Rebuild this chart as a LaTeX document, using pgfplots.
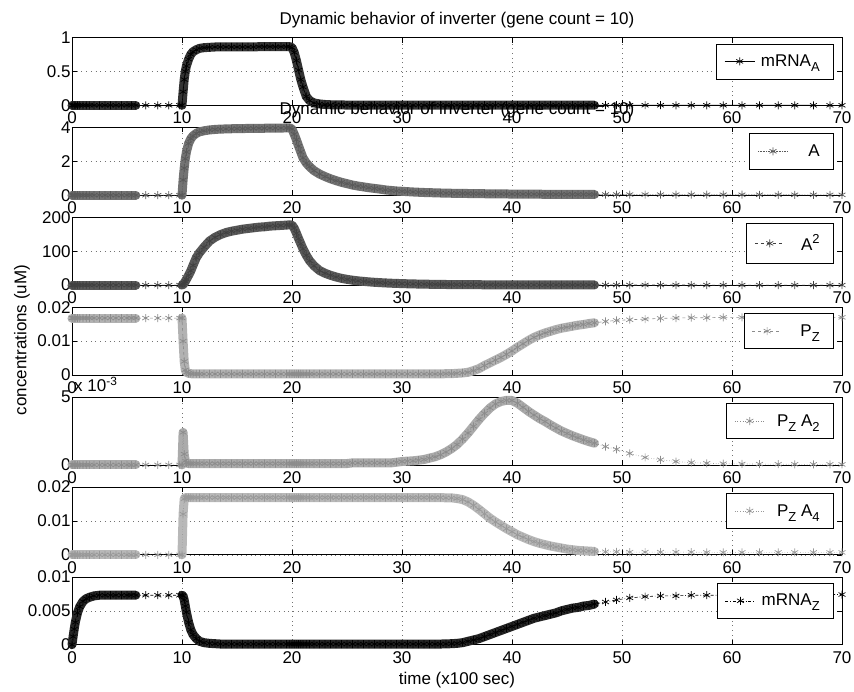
\documentclass[border=0pt]{standalone}
\usepackage{fontspec}
\setmainfont{Liberation Sans}
\usepackage{pgfplots}
\usepackage{pgfplotstable}
\pgfplotsset{compat=1.18}

\newcommand\lsub[1]{\raisebox{-5pt}{\fontsize{13}{13}\selectfont #1}}
\newcommand\lsup[1]{\raisebox{7pt}{\fontsize{13}{13}\selectfont #1}}

\pgfplotstableread{
t mA A A2 PZ PZA2 PZA4 mZ
0.0 0 0 0 0.0168 0 0 0
0.1 0 0 0 0.0168 0 0 0.0012
0.2 0 0 0 0.0168 0 0 0.0023
0.3 0 0 0 0.0168 0 0 0.0033
0.5 0 0 0 0.0168 0 0 0.0047
0.7 0 0 0 0.0168 0 0 0.0056
1.0 0 0 0 0.0168 0 0 0.0064
1.3 0 0 0 0.0168 0 0 0.0068
1.6 0 0 0 0.0168 0 0 0.0070
2.0 0 0 0 0.0168 0 0 0.0072
2.5 0 0 0 0.0168 0 0 0.0073
3.0 0 0 0 0.0168 0 0 0.0073
3.5 0 0 0 0.0168 0 0 0.0073
4.0 0 0 0 0.0168 0 0 0.0073
4.5 0 0 0 0.0168 0 0 0.0073
5.0 0 0 0 0.0168 0 0 0.0073
5.4 0 0 0 0.0168 0 0 0.0073
5.8 0 0 0 0.0168 0 0 0.0073
6.7 0 0 0 0.0168 0 0 0.0073
7.8 0 0 0 0.0168 0 0 0.0073
8.8 0 0 0 0.0168 0 0 0.0073
9.8 0 0 0 0.0168 0 0 0.0073
10.0 0 0 0 0.0168 0 0 0.0073
10.1 0.20 0.9 2 0.0100 2.4 0.0120 0.0072
10.2 0.38 1.6 6 0.0040 0.8 0.0165 0.0066
10.3 0.50 2.15 11 0.0015 0.3 0.0169 0.0057
10.4 0.58 2.55 17 0.0008 0.15 0.0169 0.0048
10.6 0.68 3.05 29 0.0005 0.1 0.0169 0.0033
10.8 0.75 3.33 42 0.0004 0.1 0.0169 0.0022
11.0 0.79 3.50 58 0.0003 0.1 0.0169 0.0015
11.3 0.82 3.65 81 0.0003 0.1 0.0169 0.0009
11.6 0.84 3.74 96 0.0003 0.1 0.0169 0.0005
12.0 0.85 3.80 112 0.0003 0.1 0.0169 0.0003
12.5 0.855 3.85 130 0.0003 0.1 0.0169 0.0002
13.0 0.86 3.88 141 0.0003 0.1 0.0169 0.00015
13.5 0.86 3.90 149 0.0003 0.1 0.0169 0.0001
14.0 0.86 3.91 155 0.0003 0.1 0.0169 0.0001
14.5 0.86 3.92 159 0.0003 0.1 0.0169 0.0001
15.0 0.86 3.93 162 0.0003 0.1 0.0169 0.0001
15.5 0.86 3.93 165 0.0003 0.1 0.0169 0.0001
16.0 0.86 3.94 167 0.0003 0.1 0.0169 0.0001
16.5 0.86 3.94 169 0.0003 0.1 0.0169 0.0001
17.0 0.865 3.95 171 0.0003 0.1 0.0169 0.0001
17.5 0.865 3.95 172 0.0003 0.1 0.0169 0.0001
18.0 0.865 3.96 174 0.0003 0.1 0.0169 0.0001
18.5 0.865 3.96 175 0.0003 0.1 0.0169 0.0001
19.0 0.865 3.96 176 0.0003 0.1 0.0169 0.0001
19.5 0.865 3.97 177 0.0003 0.1 0.0169 0.0001
19.8 0.865 3.97 178 0.0003 0.1 0.0169 0.0001
20.0 0.85 3.90 177 0.0003 0.1 0.0169 0.0001
20.2 0.78 3.60 168 0.0003 0.1 0.0169 0.0001
20.4 0.66 3.27 153 0.0003 0.1 0.0169 0.0001
20.6 0.52 2.90 137 0.0003 0.1 0.0169 0.0001
20.8 0.38 2.55 122 0.0003 0.1 0.0169 0.0001
21.0 0.27 2.20 107 0.0003 0.1 0.0169 0.0001
21.3 0.13 1.90 88 0.0003 0.1 0.0169 0.0001
21.6 0.07 1.68 72 0.0003 0.1 0.0169 0.0001
22.0 0.035 1.45 57 0.0003 0.1 0.0169 0.0001
22.5 0.02 1.25 43 0.0003 0.1 0.0169 0.0001
23.0 0.012 1.10 35 0.0003 0.1 0.0169 0.0001
23.5 0.008 0.97 29 0.0003 0.1 0.0169 0.0001
24.0 0.006 0.86 24 0.0003 0.1 0.0169 0.0001
24.5 0.005 0.76 20 0.0003 0.1 0.0169 0.0001
25.0 0.004 0.68 17 0.0003 0.1 0.0169 0.0001
25.5 0.004 0.60 14.5 0.0003 0.15 0.0169 0.0001
26.0 0.004 0.54 12.5 0.0003 0.15 0.0169 0.0001
26.5 0.003 0.49 11 0.0003 0.15 0.0169 0.0001
27.0 0.003 0.44 9.5 0.0003 0.15 0.0169 0.0001
27.5 0.003 0.40 8.3 0.0003 0.15 0.0169 0.0001
28.0 0.003 0.36 7.3 0.0003 0.15 0.0169 0.0001
28.5 0.003 0.31 6.4 0.0003 0.15 0.0169 0.0001
29.0 0.003 0.28 5.6 0.0003 0.15 0.0169 0.0001
29.5 0.003 0.25 5.0 0.0003 0.2 0.0169 0.0001
30.0 0.003 0.23 4.4 0.0003 0.25 0.0169 0.0001
30.5 0.003 0.21 3.9 0.0003 0.28 0.0169 0.0001
31.0 0.003 0.19 3.5 0.0003 0.30 0.0169 0.0001
31.5 0.002 0.175 3.1 0.0003 0.35 0.0169 0.0001
32.0 0.002 0.16 2.8 0.0003 0.40 0.0169 0.0001
32.5 0.002 0.15 2.5 0.0003 0.50 0.0169 0.0001
33.0 0.002 0.14 2.2 0.0003 0.60 0.0169 0.0001
33.5 0.002 0.13 2.0 0.0003 0.75 0.0169 0.0001
34.0 0.002 0.12 1.8 0.0004 0.95 0.0168 0.00012
34.5 0.002 0.115 1.65 0.0004 1.2 0.0168 0.00015
35.0 0.002 0.11 1.5 0.0005 1.5 0.0166 0.0002
35.5 0.002 0.105 1.4 0.0006 1.9 0.0163 0.0003
36.0 0.002 0.10 1.3 0.0008 2.35 0.0156 0.0005
36.5 0.002 0.095 1.2 0.0013 2.85 0.0146 0.0007
37.0 0.002 0.09 1.1 0.0019 3.35 0.0134 0.0009
37.5 0.002 0.086 1.0 0.0028 3.8 0.0121 0.0012
38.0 0.002 0.082 0.95 0.0036 4.2 0.0108 0.0015
38.5 0.002 0.078 0.9 0.0044 4.5 0.0097 0.0018
39.0 0.002 0.075 0.85 0.0052 4.68 0.0087 0.0021
39.5 0.002 0.072 0.8 0.0061 4.76 0.0077 0.0024
40.0 0.002 0.069 0.75 0.0071 4.75 0.0068 0.0027
40.5 0.002 0.066 0.7 0.0082 4.55 0.0059 0.0030
41.0 0.002 0.063 0.66 0.0092 4.25 0.0052 0.0033
41.5 0.002 0.061 0.62 0.0102 3.95 0.0045 0.0036
42.0 0.001 0.059 0.59 0.0111 3.68 0.0039 0.0039
42.5 0.001 0.057 0.56 0.0118 3.42 0.0034 0.0041
43.0 0.001 0.055 0.53 0.0124 3.2 0.0030 0.0043
43.5 0.001 0.053 0.5 0.0129 2.95 0.0026 0.0045
44.0 0.001 0.051 0.48 0.0134 2.72 0.0023 0.0047
44.5 0.001 0.05 0.46 0.0138 2.5 0.0020 0.0050
45.0 0.001 0.048 0.44 0.0141 2.32 0.0017 0.0052
45.5 0.001 0.047 0.43 0.0144 2.15 0.0015 0.0054
46.0 0.001 0.046 0.42 0.0147 2.0 0.0013 0.0055
46.5 0.001 0.045 0.41 0.0149 1.85 0.0012 0.0057
47.0 0.001 0.044 0.4 0.0152 1.72 0.0011 0.0058
47.5 0.001 0.043 0.39 0.0154 1.6 0.0010 0.0060
48.5 0.001 0.041 0.35 0.0158 1.35 0.0009 0.0063
49.5 0.001 0.040 0.30 0.0161 1.15 0.0009 0.0066
50.7 0.001 0.038 0.28 0.0163 0.85 0.0008 0.0069
52.1 0.001 0.036 0.25 0.0165 0.55 0.0008 0.0071
53.5 0.001 0.034 0.22 0.0167 0.38 0.0008 0.0072
54.9 0.0005 0.032 0.20 0.0168 0.25 0.0008 0.0072
56.3 0.0005 0.031 0.18 0.0169 0.17 0.0008 0.0073
57.7 0.0005 0.030 0.16 0.0169 0.12 0.0007 0.0073
59.2 0.0005 0.028 0.14 0.0170 0.09 0.0007 0.0073
60.9 0.0005 0.027 0.13 0.0170 0.07 0.0007 0.0073
62.5 0.0005 0.026 0.12 0.0170 0.06 0.0007 0.0073
64.2 0.0005 0.025 0.11 0.0170 0.05 0.0007 0.0074
65.7 0.0005 0.024 0.10 0.0170 0.045 0.0007 0.0074
67.4 0 0.023 0.09 0.0170 0.04 0.0007 0.0074
68.9 0 0.022 0.08 0.0170 0.04 0.0007 0.0074
70.0 0 0.022 0.08 0.0170 0.035 0.0007 0.0074
}\data

\pgfplotsset{
  sub/.style={anchor=north west, width=770pt, height=67.8pt, scale only axis,
    xmin=0, xmax=70, clip=false, scaled y ticks=false, scaled x ticks=false,
    xtick={0,10,...,70}, xticklabels={0,10,20,30,40,50,60,70},
    grid=major, major grid style={black!55, line width=0.6pt, dash pattern=on 0.7pt off 4pt},
    tick align=inside, major tick length=5pt,
    every tick/.style={black, line width=0.6pt},
    axis line style={black, line width=0.8pt},
    xticklabel style={yshift=-3pt}, yticklabel style={xshift=2pt},
    legend style={at={(1,1)}, anchor=north east, xshift=-8pt, yshift=-6pt,
      draw=black, line width=0.6pt, fill=white, inner xsep=8pt, inner ysep=4pt,
      nodes={inner xsep=6pt, inner ysep=7pt}},
    legend image code/.code={\draw[mark repeat=2,mark phase=2,##1] plot coordinates {(0pt,0pt) (15pt,0pt) (30pt,0pt)};},
  },
  band/.style={forget plot, no marks, line width=9pt, line join=round, line cap=round},
  ser/.style={line width=0.6pt, mark=asterisk, mark size=4pt, mark options={solid, line width=0.7pt}},
}

\begin{document}
\begin{tikzpicture}[font=\fontsize{17}{20}\selectfont]
\path[use as bounding box] (-72pt,37.5pt) rectangle (782pt,-653.5pt);

\begin{axis}[sub, at={(0pt,0pt)}, ymin=0, ymax=1, ytick={0,0.5,1}, yticklabels={0,0.5,1},
  title={Dynamic behavior of inverter (gene count = 10)}]
\addplot[band, black!80, restrict x to domain=-1:6] table[x=t,y=mA]{\data};
\addplot[band, black!80, restrict x to domain=9.9:48] table[x=t,y=mA]{\data};
\addplot[ser, black, solid] table[x=t,y=mA]{\data};
\addlegendentry{mRNA\lsub{A}}
\end{axis}

\begin{axis}[sub, at={(0pt,-89.9pt)}, ymin=0, ymax=4, ytick={0,2,4}, yticklabels={0,2,4},
  title={Dynamic behavior of inverter (gene count = 10)}]
\addplot[band, black!55, restrict x to domain=-1:6] table[x=t,y=A]{\data};
\addplot[band, black!55, restrict x to domain=9.9:48] table[x=t,y=A]{\data};
\addplot[ser, black!65, densely dotted] table[x=t,y=A]{\data};
\addlegendentry{\hspace{14pt}A}
\end{axis}

\begin{axis}[sub, at={(0pt,-179.8pt)}, ymin=0, ymax=200, ytick={0,100,200}, yticklabels={0,100,200}]
\addplot[band, black!65, restrict x to domain=-1:6] table[x=t,y=A2]{\data};
\addplot[band, black!65, restrict x to domain=9.9:48] table[x=t,y=A2]{\data};
\addplot[ser, black!75, dashed] table[x=t,y=A2]{\data};
\addlegendentry{\hspace{10pt}A\lsup{2}}
\end{axis}

\begin{axis}[sub, at={(0pt,-269.7pt)}, ymin=0, ymax=0.02, ytick={0,0.01,0.02}, yticklabels={0,0.01,0.02}]
\addplot[band, black!30, restrict x to domain=-1:6] table[x=t,y=PZ]{\data};
\addplot[band, black!30, restrict x to domain=9.9:48] table[x=t,y=PZ]{\data};
\addplot[ser, black!45, dashed] table[x=t,y=PZ]{\data};
\addlegendentry{\hspace{12pt}P\lsub{Z}}
\end{axis}

\begin{axis}[sub, at={(0pt,-359.6pt)}, ymin=0, ymax=5, ytick={0,5}, yticklabels={0,5}]
\addplot[band, black!33, restrict x to domain=-1:6] table[x=t,y=PZA2]{\data};
\addplot[band, black!33, restrict x to domain=9.9:48] table[x=t,y=PZA2]{\data};
\addplot[ser, black!45, dotted] table[x=t,y=PZA2]{\data};
\addlegendentry{\hspace{6pt}P\lsub{Z} A\lsub{2}}
\node[anchor=south west, inner sep=2pt, yshift=3pt] at (rel axis cs:0,1) {x 10\textsuperscript{-3}};
\end{axis}

\begin{axis}[sub, at={(0pt,-449.5pt)}, ymin=0, ymax=0.02, ytick={0,0.01,0.02}, yticklabels={0,0.01,0.02}]
\addplot[band, black!28, restrict x to domain=-1:6] table[x=t,y=PZA4]{\data};
\addplot[band, black!28, restrict x to domain=9.9:48] table[x=t,y=PZA4]{\data};
\addplot[ser, black!40, dotted] table[x=t,y=PZA4]{\data};
\addlegendentry{\hspace{6pt}P\lsub{Z} A\lsub{4}}
\end{axis}

\begin{axis}[sub, at={(0pt,-539.4pt)}, ymin=0, ymax=0.01, ytick={0,0.005,0.01}, yticklabels={0,0.005,0.01},
  xlabel={time (x100 sec)}, xlabel style={at={(axis description cs:0.5,0)}, anchor=center, yshift=-35pt}]
\addplot[band, black!85, restrict x to domain=-1:6] table[x=t,y=mZ]{\data};
\addplot[band, black!85, restrict x to domain=9.9:48] table[x=t,y=mZ]{\data};
\addplot[ser, black, dashdotted] table[x=t,y=mZ]{\data};
\addlegendentry{mRNA\lsub{Z}}
\end{axis}

\node[rotate=90] at (-50pt,-302.5pt) {concentrations (uM)};
\end{tikzpicture}
\end{document}
